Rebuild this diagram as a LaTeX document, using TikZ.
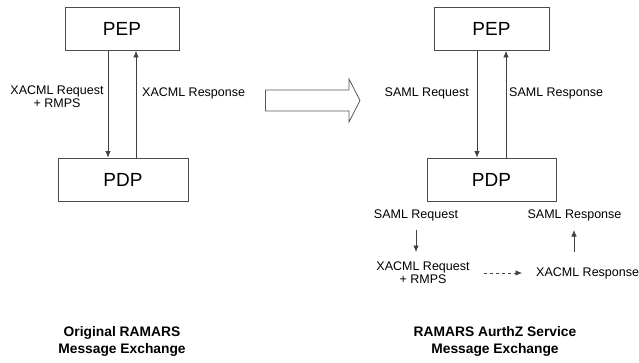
\documentclass[tikz,border=0pt]{standalone}
\usepackage{fontspec}
\setmainfont{Liberation Sans}
\usetikzlibrary{arrows.meta,calc}
\begin{document}
\begin{tikzpicture}[x=1pt,y=-1pt,
  boxnode/.style={draw=black!70,line width=0.8pt,minimum height=43pt,inner sep=0pt,font=\fontsize{19}{21}\selectfont},
  lbl/.style={font=\fontsize{12.5}{13}\selectfont,inner sep=0pt,align=center},
  ttl/.style={font=\bfseries\fontsize{13.8}{17}\selectfont,inner sep=0pt,align=center},
  conn/.style={draw=black!75,line width=0.7pt,-{Latex[length=6.5pt,width=5.5pt]}}]
\useasboundingbox (0,0) rectangle (639,362);
% left diagram
\node[boxnode,minimum width=114pt] (pepL) at (122,29) {PEP};
\node[boxnode,minimum width=130pt] (pdpL) at (123,179.5) {PDP};
\draw[conn] (pepL.south -| 108,0) -- (pdpL.north -| 108,0);
\draw[conn] (pdpL.north -| 136,0) -- (pepL.south -| 136,0);
\node[lbl] (reqL) at (57,96.5) {XACML Request\\+ RMPS};
\node[lbl,anchor=west] (resL) at (142,93) {XACML Response};
% block arrow
\draw[black!65,line width=0.8pt,fill=white] (265.5,90) -- (349,90) -- (349,79) -- (360,100.5) -- (349,122) -- (349,111) -- (265.5,111) -- cycle;
% right diagram
\node[boxnode,minimum width=115pt] (pepR) at (491.5,29) {PEP};
\node[boxnode,minimum width=129pt] (pdpR) at (491.5,179.5) {PDP};
\draw[conn] (pepR.south -| 477,0) -- (pdpR.north -| 477,0);
\draw[conn] (pdpR.north -| 506,0) -- (pepR.south -| 506,0);
\node[lbl,anchor=east] (reqR) at (469,93) {SAML Request};
\node[lbl,anchor=west] (resR) at (509,93) {SAML Response};
% lower part
\node[lbl] (sreq) at (416,215) {SAML Request};
\node[lbl] (sres) at (574.5,215) {SAML Response};
\node[lbl] (xreq) at (423,272.5) {XACML Request\\+ RMPS};
\node[lbl,anchor=west] (xres) at (536,273) {XACML Response};
\coordinate (da) at (416,230);
\coordinate (db) at (416,252);
\coordinate (ua) at (574,252);
\coordinate (ub) at (574,230);
\draw[conn] (da) -- (db);
\draw[conn] (ua) -- (ub);
\draw[conn,dashed] (484,273) -- (522,273);
% titles
\node[ttl] (tL) at (122,341) {Original RAMARS\\Message Exchange};
\node[ttl] (tR) at (495,341) {RAMARS AurthZ Service\\Message Exchange};
\end{tikzpicture}
\end{document}
